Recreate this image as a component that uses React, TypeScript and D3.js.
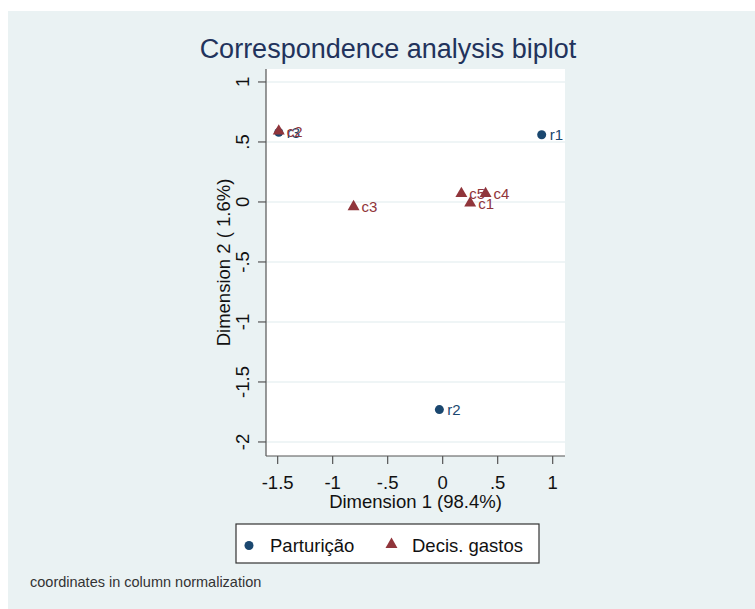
import React from "react";
import * as d3 from "d3";

const rowLabels = ["r1", "r2", "r3"];
const rowX = [0.9, -0.03, -1.49];
const rowY = [0.56, -1.73, 0.58];

const colLabels = ["c1", "c2", "c3", "c4", "c5"];
const colX = [0.25, -1.49, -0.81, 0.39, 0.17];
const colY = [-0.01, 0.59, -0.04, 0.07, 0.07];

const xTicks = [-1.5, -1, -0.5, 0, 0.5, 1];
const xTickLabels = ["-1.5", "-1", "-.5", "0", ".5", "1"];
const yTicks = [-2, -1.5, -1, -0.5, 0, 0.5, 1];
const yTickLabels = ["-2", "-1.5", "-1", "-.5", "0", ".5", "1"];

const legendLabels = ["Parturição", "Decis. gastos"];

const BLUE = "#1a476f";
const RED = "#90353b";
const BG = "#eaf2f3";
const FONT = "'Liberation Sans', Arial, sans-serif";

export default function App() {
  const W = 755, H = 609;
  const left = 266, right = 565, top = 69, bottom = 456;
  const x = d3.scaleLinear().domain([-1.606, 1.112]).range([left, right]);
  const y = d3.scaleLinear().domain([-2.117, 1.108]).range([bottom, top]);
  const tri = d3.symbol().type(d3.symbolTriangle).size(62)();
  const triLegend = d3.symbol().type(d3.symbolTriangle).size(62)();

  return (
    <svg width={W} height={H} style={{ position: "absolute", left: 0, top: 0 }} fontFamily={FONT}>
      <rect x={0} y={0} width={W} height={H} fill="#ffffff" />
      <rect x={8} y={11} width={W - 8} height={H - 11} fill={BG} />
      <text x={388} y={58} textAnchor="middle" fontSize={27} fill="#22335c">
        Correspondence analysis biplot
      </text>
      <rect x={left} y={top} width={right - left} height={bottom - top} fill="#ffffff" />
      {yTicks.map((t) => (
        <line key={"g" + t} x1={left} x2={right} y1={y(t)} y2={y(t)} stroke={BG} strokeWidth={1.5} />
      ))}
      <line x1={left} x2={left} y1={top} y2={bottom} stroke="#555" strokeWidth={1.2} />
      <line x1={left} x2={right} y1={bottom} y2={bottom} stroke="#555" strokeWidth={1.2} />
      {yTicks.map((t, i) => (
        <g key={"yt" + t}>
          <line x1={left - 8} x2={left} y1={y(t)} y2={y(t)} stroke="#555" strokeWidth={1.2} />
          <text
            transform={`translate(249,${y(t)}) rotate(-90)`}
            textAnchor="middle"
            fontSize={18.5}
            fill="#111"
          >
            {yTickLabels[i]}
          </text>
        </g>
      ))}
      {xTicks.map((t, i) => (
        <g key={"xt" + t}>
          <line x1={x(t)} x2={x(t)} y1={bottom} y2={bottom + 8} stroke="#555" strokeWidth={1.2} />
          <text x={x(t)} y={489} textAnchor="middle" fontSize={18.5} fill="#111">
            {xTickLabels[i]}
          </text>
        </g>
      ))}
      <text x={(left + right) / 2} y={508} textAnchor="middle" fontSize={18.5} fill="#111">
        Dimension 1 (98.4%)
      </text>
      <text
        transform={`translate(230,${(top + bottom) / 2}) rotate(-90)`}
        textAnchor="middle"
        fontSize={18.5}
        fill="#111"
      >
        Dimension 2 ( 1.6%)
      </text>
      {rowX.map((v, i) => (
        <g key={"r" + i}>
          <circle cx={x(v)} cy={y(rowY[i])} r={4.5} fill={BLUE} />
          <text x={x(v) + 8} y={y(rowY[i]) + 5.5} fontSize={15} fill={BLUE}>
            {rowLabels[i]}
          </text>
        </g>
      ))}
      {colX.map((v, i) => (
        <g key={"c" + i}>
          <path d={tri} transform={`translate(${x(v)},${y(colY[i])})`} fill={RED} />
          <text x={x(v) + 8} y={y(colY[i]) + 5.5} fontSize={15} fill={RED}>
            {colLabels[i]}
          </text>
        </g>
      ))}
      <rect x={236} y={524} width={303} height={39} fill="#ffffff" stroke="#333" strokeWidth={1.2} />
      <circle cx={249} cy={545.5} r={4.5} fill={BLUE} />
      <text x={270} y={552} fontSize={18.5} fill="#111">
        {legendLabels[0]}
      </text>
      <path d={triLegend} transform="translate(391.5,544.5)" fill={RED} />
      <text x={412} y={552} fontSize={18.5} fill="#111">
        {legendLabels[1]}
      </text>
      <text x={30} y={587} fontSize={14.5} fill="#333">
        coordinates in column normalization
      </text>
    </svg>
  );
}
